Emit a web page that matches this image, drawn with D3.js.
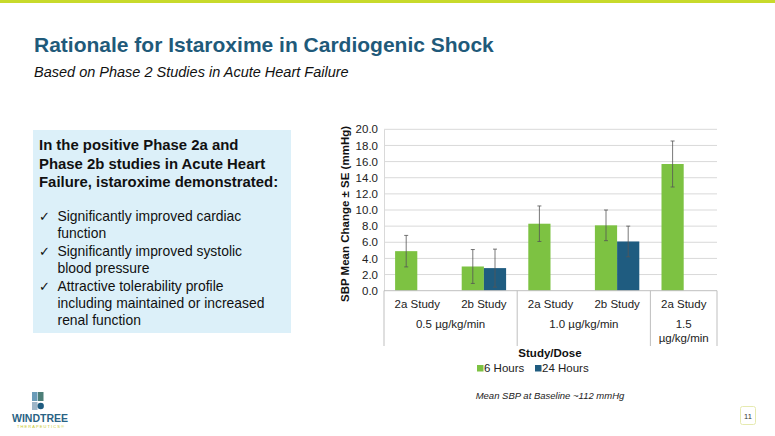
<!DOCTYPE html>
<html><head><meta charset="utf-8">
<script src="https://cdn.jsdelivr.net/npm/d3@7"></script>
<style>
body{margin:0;background:#fff;}
svg{display:block;font-family:Arial,"Liberation Sans",sans-serif;}
</style></head>
<body>
<svg id="c" width="775" height="436"></svg>
<script>
const studies = ["2a Study","2b Study","2a Study","2b Study","2a Study"];
const doses = [["0.5 µg/kg/min"],["1.0 µg/kg/min"],["1.5","µg/kg/min"]];
const doseSpan = [2,2,1];
const seriesNames = ["6 Hours","24 Hours"];
const sixHours = [4.9, 3.0, 8.3, 8.1, 15.7];
const sixHoursSE = [1.95, 2.1, 2.2, 1.9, 2.85];
const twentyFourHours = [null, 2.8, null, 6.1, null];
const twentyFourHoursSE = [null, 2.35, null, 1.9, null];
const yTicks = [0,2,4,6,8,10,12,14,16,18,20];
const colors = ["#7dc242","#1f5c80"];

const svg = d3.select("#c");
// top bar
svg.append("rect").attr("x",0).attr("y",0).attr("width",775).attr("height",3).attr("fill","#c8da2b");
svg.append("text").attr("x",34).attr("y",52).attr("font-size",21).attr("font-weight","bold")
  .attr("fill","#1f5a7a").text("Rationale for Istaroxime in Cardiogenic Shock");
svg.append("text").attr("x",34).attr("y",77).attr("font-size",14.5).attr("font-style","italic")
  .attr("fill","#111").text("Based on Phase 2 Studies in Acute Heart Failure");

// left box
svg.append("rect").attr("x",33).attr("y",130).attr("width",258).attr("height",203).attr("fill","#dcf0f9");
const boldLines = ["In the positive Phase 2a and","Phase 2b studies in Acute Heart","Failure, istaroxime demonstrated:"];
boldLines.forEach((t,i)=>svg.append("text").attr("x",39).attr("y",150+i*18.5).attr("font-size",14.9)
  .attr("font-weight","bold").attr("fill","#111").text(t));
const bullets = [["Significantly improved cardiac","function"],["Significantly improved systolic","blood pressure"],["Attractive tolerability profile","including maintained or increased","renal function"]];
let by = 221;
bullets.forEach(b=>{
  svg.append("text").attr("x",39).attr("y",by).attr("font-size",13).attr("fill","#111").text("✓");
  b.forEach((t,i)=>{
    svg.append("text").attr("x",57.5).attr("y",by+i*17.4).attr("font-size",13.9).attr("fill","#111").text(t);
  });
  by += b.length*17.4;
});

// chart
const x0 = 384, x1 = 717, yTop = 129.3, yBot = 290.7;
const x = d3.scaleBand().domain(d3.range(studies.length)).range([x0,x1]).paddingInner(0).paddingOuter(0);
const xs = d3.scaleBand().domain(seriesNames).range([0,x.bandwidth()]).paddingInner(0).paddingOuter(0.5);
const y = d3.scaleLinear().domain([0,20]).range([yBot,yTop]);

const g = svg.append("g");
// gridlines
g.selectAll(".grid").data(yTicks.slice(1)).enter().append("line")
  .attr("x1",x0).attr("x2",x1).attr("y1",d=>y(d)).attr("y2",d=>y(d))
  .attr("stroke","#d9d9d9").attr("stroke-width",1);
// y axis
const yAxis = d3.axisLeft(y).tickValues(yTicks).tickFormat(d3.format(".1f")).tickSize(0).tickPadding(6);
const ya = svg.append("g").attr("transform",`translate(${x0},0)`).call(yAxis);
ya.select(".domain").attr("stroke","#d9d9d9");
ya.selectAll("text").attr("font-size",11.5).attr("fill","#222").attr("font-family","Arial, 'Liberation Sans', sans-serif");

// bars
const series = [ {name:seriesNames[0], v:sixHours, se:sixHoursSE}, {name:seriesNames[1], v:twentyFourHours, se:twentyFourHoursSE} ];
series.forEach((s,si)=>{
  s.v.forEach((v,i)=>{
    if(v==null) return;
    const bx = x(i)+xs(s.name);
    g.append("rect").attr("x",bx).attr("y",y(v)).attr("width",xs.bandwidth()).attr("height",y(0)-y(v)).attr("fill",colors[si]);
  });
});
series.forEach((s,si)=>{
  s.v.forEach((v,i)=>{
    if(v==null) return;
    const cx = x(i)+xs(s.name)+xs.bandwidth()/2;
    const e = s.se[i];
    g.append("line").attr("x1",cx).attr("x2",cx).attr("y1",y(v+e)).attr("y2",y(Math.max(0,v-e))).attr("stroke","#555").attr("stroke-width",0.8);
    [v+e, v-e].forEach(yy=>{
      if(yy<0) return;
      g.append("line").attr("x1",cx-2).attr("x2",cx+2).attr("y1",y(yy)).attr("y2",y(yy)).attr("stroke","#555").attr("stroke-width",0.8);
    });
  });
});

// x axis line
svg.append("line").attr("x1",x0).attr("x2",x1).attr("y1",yBot).attr("y2",yBot).attr("stroke","#bfbfbf");
// category separators
let acc = 0;
const bounds = [0];
doseSpan.forEach(n=>{acc+=n; bounds.push(acc);});
bounds.forEach(b=>{
  const bx = b<studies.length ? x(b) : x1;
  svg.append("line").attr("x1",bx).attr("x2",bx).attr("y1",yBot).attr("y2",346).attr("stroke","#bfbfbf");
});
// study labels
studies.forEach((t,i)=>{
  svg.append("text").attr("x",x(i)+x.bandwidth()/2).attr("y",308).attr("text-anchor","middle")
    .attr("font-size",11.5).attr("fill","#222").text(t);
});
// dose labels
let start = 0;
doses.forEach((lines,di)=>{
  const cx = (x(start) + (start+doseSpan[di]<studies.length ? x(start+doseSpan[di]) : x1))/2;
  lines.forEach((t,li)=>{
    svg.append("text").attr("x",cx).attr("y",328+li*14).attr("text-anchor","middle")
      .attr("font-size",11.5).attr("fill","#222").text(t);
  });
  start += doseSpan[di];
});
// y title
svg.append("text").attr("transform","translate(349,214) rotate(-90)").attr("text-anchor","middle")
  .attr("font-size",11.5).attr("font-weight","bold").attr("fill","#111").text("SBP Mean Change ± SE (mmHg)");
// x title
svg.append("text").attr("x",550).attr("y",357).attr("text-anchor","middle").attr("font-size",11.5)
  .attr("font-weight","bold").attr("fill","#111").text("Study/Dose");
// legend
const legX = [477, 535];
seriesNames.forEach((n,i)=>{
  svg.append("rect").attr("x",legX[i]).attr("y",365).attr("width",6.5).attr("height",6.5).attr("fill",colors[i]);
  svg.append("text").attr("x",legX[i]+7).attr("y",372).attr("font-size",11.5).attr("fill","#222").text(n);
});
// note
svg.append("text").attr("x",550).attr("y",399).attr("text-anchor","middle").attr("font-size",9.5)
  .attr("font-style","italic").attr("fill","#222").text("Mean SBP at Baseline ~112 mmHg");

// logo
const lg = svg.append("g");
lg.append("rect").attr("x",32).attr("y",392).attr("width",5.5).attr("height",9).attr("fill","#6a9bb8");
lg.append("rect").attr("x",38).attr("y",392).attr("width",5.5).attr("height",9).attr("fill","#4d7f78");
lg.append("rect").attr("x",32).attr("y",402).attr("width",5.5).attr("height",8).attr("fill","#9fb6c8");
lg.append("circle").attr("cx",40.7).attr("cy",406).attr("r",3.2).attr("fill","#1f5c80");
svg.append("text").attr("x",40).attr("y",421.5).attr("text-anchor","middle").attr("font-size",10.5)
  .attr("font-weight","bold").attr("fill","#2a6384").text("WINDTREE");
svg.append("text").attr("x",41).attr("y",427.5).attr("text-anchor","middle").attr("font-size",4)
  .attr("letter-spacing",1.1).attr("fill","#c8c82a").text("THERAPEUTICS®");
// page number
svg.append("rect").attr("x",740.5).attr("y",406.5).attr("width",15).attr("height",18).attr("rx",2)
  .attr("fill","#fff").attr("stroke","#e6eab0");
svg.append("text").attr("x",748).attr("y",418.5).attr("text-anchor","middle").attr("font-size",7.5).attr("fill","#333").text("11");
</script>
</body></html>
